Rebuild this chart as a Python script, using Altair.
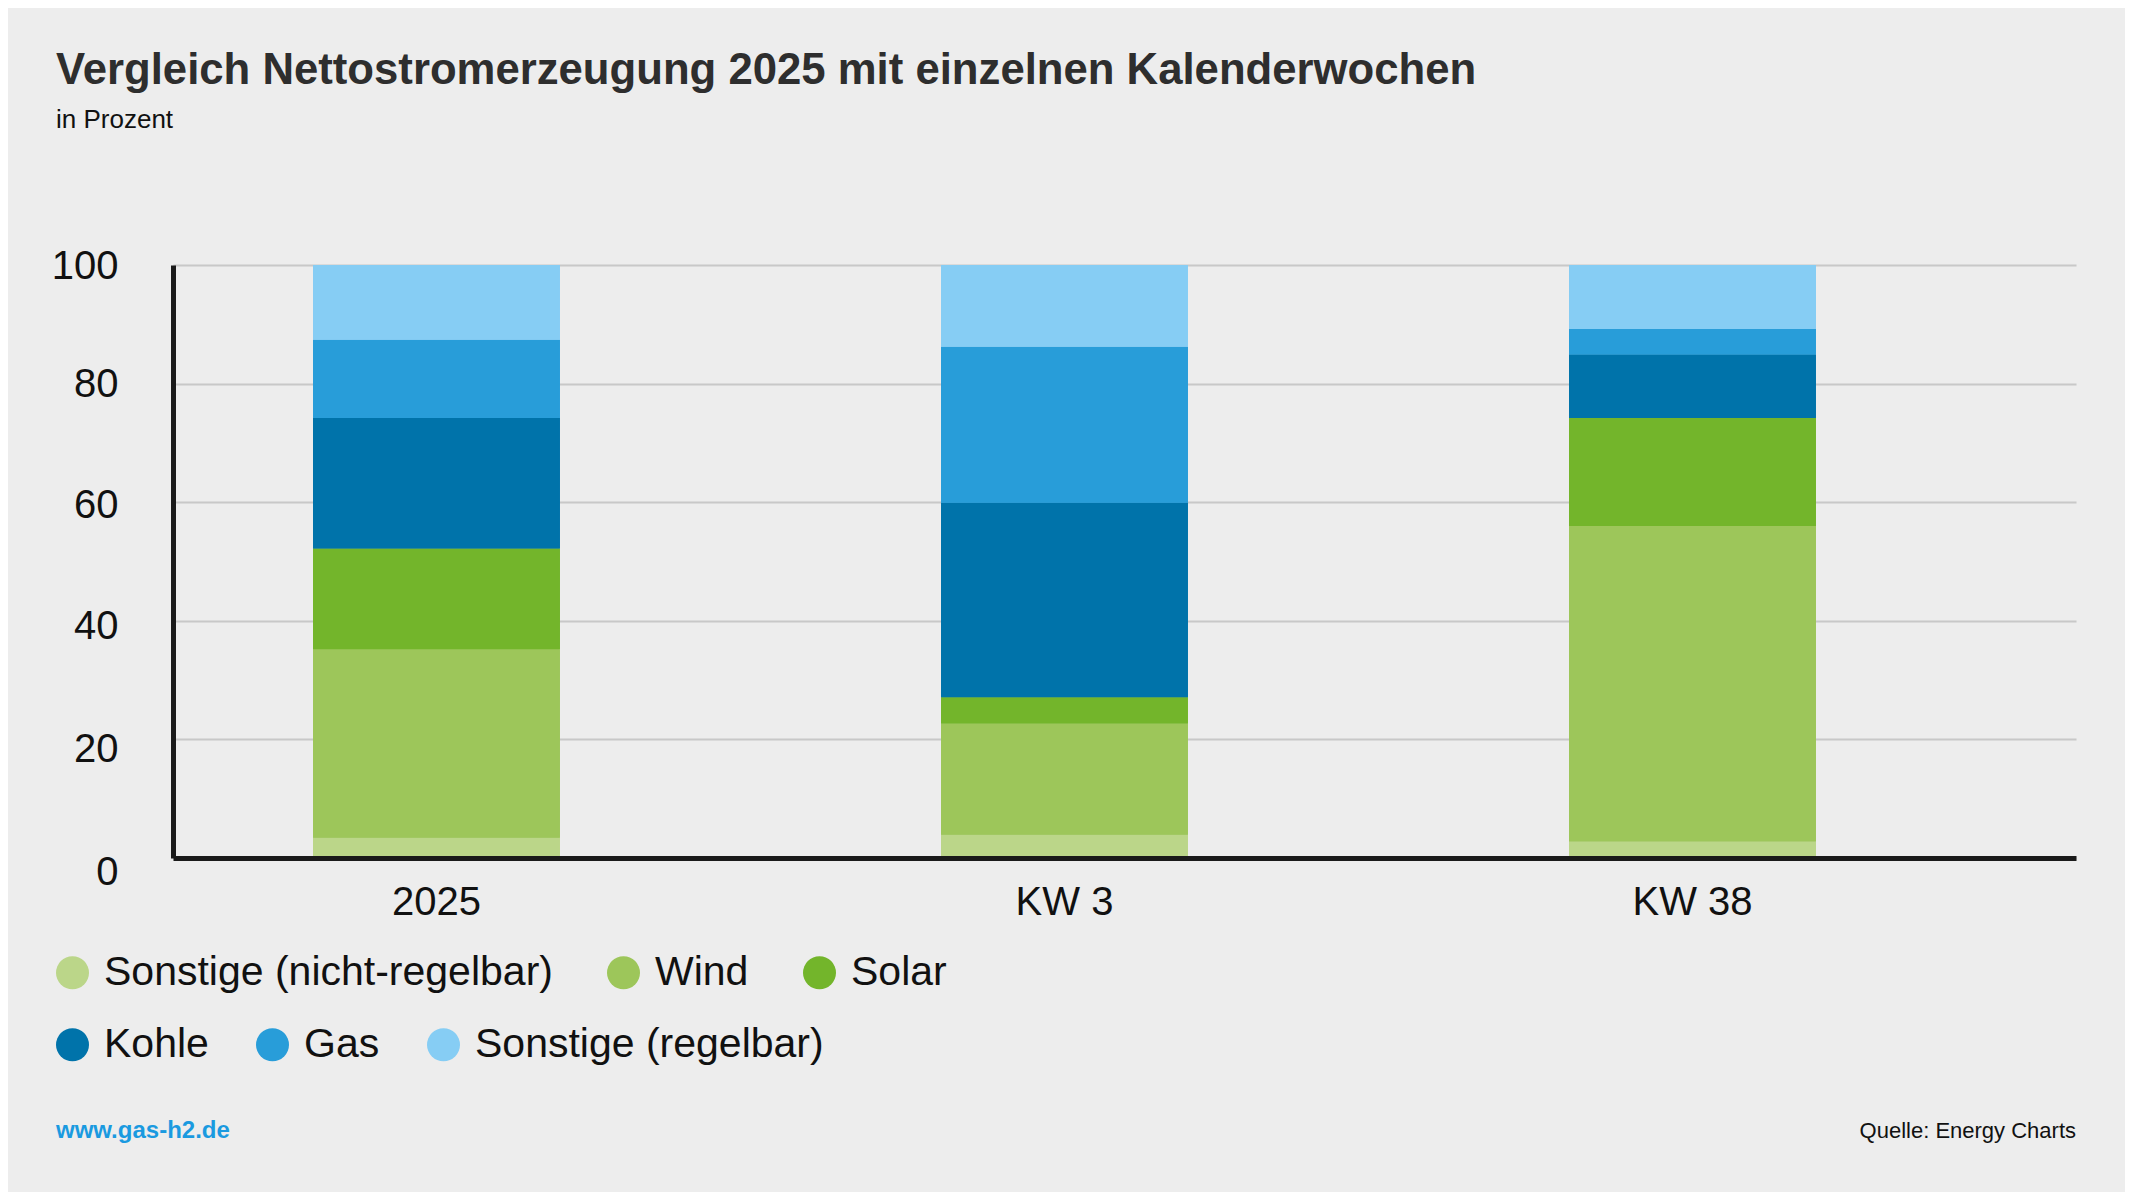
import altair as alt
import pandas as pd

# ---- data ----
categories = ["2025", "KW 3", "KW 38"]
sources = ["Sonstige (nicht-regelbar)", "Wind", "Solar", "Kohle", "Gas", "Sonstige (regelbar)"]
colors = ["#bbd689", "#9dc65a", "#73b52b", "#0073aa", "#289dd9", "#86cdf4"]

values_2025 = [3.4, 31.8, 17.0, 22.0, 13.2, 12.6]
values_kw3 = [3.9, 18.8, 4.4, 32.8, 26.3, 13.8]
values_kw38 = [2.8, 53.2, 18.2, 10.7, 4.3, 10.8]

y_ticks = [0, 20, 40, 60, 80, 100]

title_text = "Vergleich Nettostromerzeugung 2025 mit einzelnen Kalenderwochen"
subtitle_text = "in Prozent"
footer_left = "www.gas-h2.de"
footer_right = "Quelle: Energy Charts"

rows = []
for cat, vals in zip(categories, [values_2025, values_kw3, values_kw38]):
    for i, (src, v) in enumerate(zip(sources, vals)):
        rows.append({"Kategorie": cat, "Quelle": src, "Wert": v, "Reihenfolge": i})
df = pd.DataFrame(rows)

FONT = "Liberation Sans"
BG = "#ededed"

x_enc = alt.X(
    "Kategorie:N",
    sort=categories,
    scale=alt.Scale(paddingInner=0.607, paddingOuter=0.3186, align=0.35),
    axis=alt.Axis(
        title=None,
        labelAngle=0,
        ticks=False,
        grid=False,
        domain=True,
        domainColor="#1a1a1a",
        domainWidth=5,
        labelFont=FONT,
        labelFontSize=40,
        labelColor="#111111",
        labelPadding=24,
        zindex=1,
    ),
)

y_enc = alt.Y(
    "Wert:Q",
    stack="zero",
    scale=alt.Scale(domain=[0, 100], nice=False),
    axis=alt.Axis(
        title=None,
        values=y_ticks,
        ticks=False,
        grid=True,
        gridColor="#c8c8c8",
        gridWidth=2,
        domain=True,
        domainColor="#1a1a1a",
        domainWidth=5,
        labelFont=FONT,
        labelFontSize=40,
        labelColor="#111111",
        labelPadding=55,
        labelBaseline="middle",
        labelOffset={
            "condition": [
                {"test": "datum.value == 0", "value": 14},
                {"test": "datum.value == 20", "value": 10},
                {"test": "datum.value == 40", "value": 6},
                {"test": "datum.value == 60", "value": 3},
            ],
            "value": 1,
        },
        zindex=0,
    ),
)

order_enc = alt.Order("Reihenfolge:Q", sort="ascending")

legend_common = dict(
    title=None,
    orient="none",
    direction="horizontal",
    symbolType="circle",
    symbolSize=1089,
    symbolStrokeWidth=0,
    symbolOpacity=1,
    labelFont=FONT,
    labelFontSize=41,
    labelColor="#111111",
    labelOffset=11,
    labelLimit=0,
    padding=0,
)

# first legend row: renewable sources
bars_top_legend = alt.Chart(df).mark_bar().encode(
    x=x_enc,
    y=y_enc,
    color=alt.Color(
        "Quelle:N",
        scale=alt.Scale(domain=sources, range=colors),
        legend=alt.Legend(values=sources[:3], legendX=-121, legendY=687, columnPadding=50, **legend_common),
    ),
    order=order_enc,
)

# second legend row: conventional sources (scale domain reordered so the legend is not merged)
bars_bottom_legend = alt.Chart(df).mark_bar().encode(
    x=x_enc,
    y=y_enc,
    fill=alt.Fill(
        "Quelle:N",
        scale=alt.Scale(domain=sources[3:] + sources[:3], range=colors[3:] + colors[:3]),
        legend=alt.Legend(values=sources[3:], legendX=-121, legendY=759, columnPadding=43, **legend_common),
    ),
    order=order_enc,
)

title = alt.Chart(pd.DataFrame({"t": [title_text]})).mark_text(
    align="left", baseline="alphabetic", font=FONT, fontSize=43.7, fontWeight="bold", color="#2e2e2e"
).encode(x=alt.value(-117), y=alt.value(-181), text="t:N")

subtitle = alt.Chart(pd.DataFrame({"t": [subtitle_text]})).mark_text(
    align="left", baseline="alphabetic", font=FONT, fontSize=26, color="#111111"
).encode(x=alt.value(-117), y=alt.value(-137), text="t:N")

foot_l = alt.Chart(pd.DataFrame({"t": [footer_left]})).mark_text(
    align="left", baseline="alphabetic", font=FONT, fontSize=24, fontWeight="bold", color="#1a9ae0"
).encode(x=alt.value(-117), y=alt.value(873), text="t:N")

foot_r = alt.Chart(pd.DataFrame({"t": [footer_right]})).mark_text(
    align="right", baseline="alphabetic", font=FONT, fontSize=22, color="#111111"
).encode(x=alt.value(1903), y=alt.value(873), text="t:N")

chart = alt.layer(bars_top_legend, bars_bottom_legend, title, subtitle, foot_l, foot_r).properties(
    width=1903,
    height=593,
    padding={"left": 165, "top": 257, "right": 49, "bottom": 334},
    autosize=alt.AutoSizeParams(type="none"),
    background=BG,
).configure_view(stroke=None)

chart.save("out.html", embed_options={"renderer": "svg", "actions": False})
